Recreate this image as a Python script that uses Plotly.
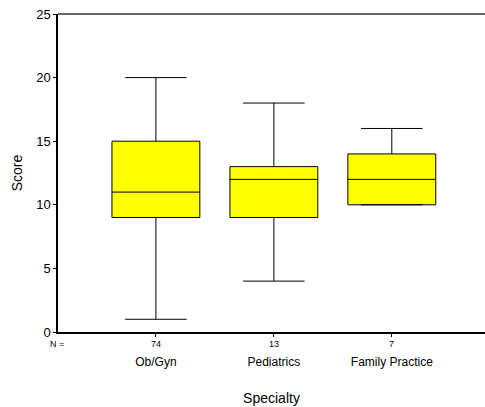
import plotly.graph_objects as go

# Box-plot summary statistics per specialty
specialties = ["Ob/Gyn", "Pediatrics", "Family Practice"]
n_counts = [74, 13, 7]
lower_whisker = [1, 4, 10]
q1 = [9, 9, 10]
median = [11, 12, 12]
q3 = [15, 13, 14]
upper_whisker = [20, 18, 16]
y_ticks = [0, 5, 10, 15, 20, 25]

FONT = "Arial, Liberation Sans, sans-serif"

fig = go.Figure()
fig.add_trace(go.Box(
    x=specialties,
    q1=q1,
    median=median,
    q3=q3,
    lowerfence=lower_whisker,
    upperfence=upper_whisker,
    width=0.745,
    whiskerwidth=0.7,
    fillcolor="#ffff00",
    line=dict(color="#000000", width=1),
    boxpoints=False,
    showlegend=False,
    hoverinfo="skip",
))

# sample sizes printed under each category
for name, n in zip(specialties, n_counts):
    fig.add_annotation(x=name, y=0, xref="x", yref="paper", text=str(n),
                       showarrow=False, yanchor="top", yshift=-5,
                       font=dict(family=FONT, size=9, color="#000000"))
fig.add_annotation(x=0, y=0, xref="paper", yref="paper", text="N =",
                   showarrow=False, xanchor="center", yanchor="top",
                   xshift=-1, yshift=-5,
                   font=dict(family=FONT, size=9, color="#000000"))

# gray frame line across the top of the plot area
fig.add_shape(type="line", xref="paper", yref="paper", x0=0, x1=1, y0=1, y1=1,
              line=dict(color="#666666", width=2))

fig.update_layout(
    width=485, height=407,
    margin=dict(l=58, r=0, t=14, b=75),
    paper_bgcolor="white", plot_bgcolor="white",
    font=dict(family=FONT, color="#000000"),
    xaxis=dict(
        type="category",
        range=[-0.83, 2.79],
        showgrid=False, zeroline=False,
        showline=True, linecolor="#000000", linewidth=2,
        ticks="outside", ticklen=3, tickcolor="#000000",
        ticklabelstandoff=15,
        tickfont=dict(family=FONT, size=12, color="#000000"),
        title=dict(text="Specialty", standoff=25,
                   font=dict(family=FONT, size=14, color="#000000")),
    ),
    yaxis=dict(
        range=[0, 25],
        tickvals=y_ticks,
        showgrid=False, zeroline=False,
        showline=True, linecolor="#000000", linewidth=1.5,
        ticks="outside", ticklen=3, tickcolor="#000000",
        tickfont=dict(family=FONT, size=13, color="#000000"),
        title=dict(text="Score", standoff=10,
                   font=dict(family=FONT, size=14, color="#000000")),
    ),
)

fig.write_html("out.html")
